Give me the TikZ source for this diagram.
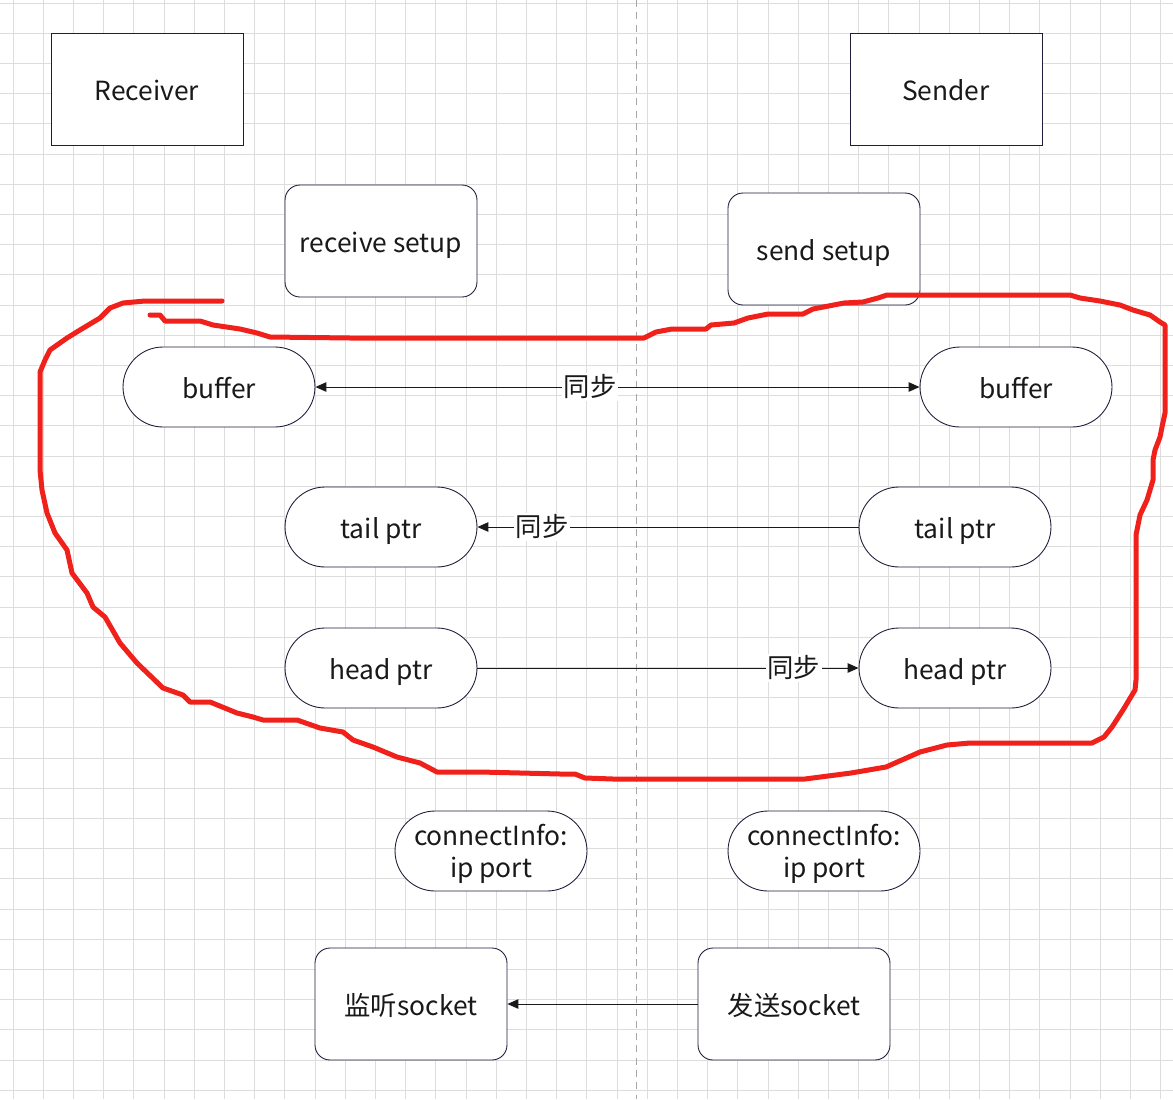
\documentclass[tikz,border=0pt]{standalone}
\usepackage{fontspec}
\setmainfont{Noto Sans CJK SC}
\usepackage{tikz}
\usetikzlibrary{positioning}
\usetikzlibrary{arrows.meta}

\definecolor{edgeblue}{HTML}{1E1E3A}
\definecolor{gridgray}{HTML}{DDDDDD}
\definecolor{markred}{HTML}{F0201A}

\tikzset{
	gridline/.style={draw=gridgray, line width=0.5pt},
	midline/.style={draw=gray!70, line width=0.5pt, dash pattern=on 4pt off 3pt},
	box/.style={draw=edgeblue, line width=0.5pt, fill=white, text=black!90,
		minimum width=3.84cm, minimum height=2.24cm, inner sep=0pt,
		text height=14.2pt, text depth=0.6pt,
		font=\fontsize{15pt}{18pt}\selectfont},
	roundbox/.style={box, rounded corners=0.3cm},
	pill/.style={box, minimum height=1.6cm, rounded corners=0.8cm},
	twoline/.style={draw=edgeblue, line width=0.5pt, fill=white, text=black!90,
		minimum width=3.84cm, minimum height=1.6cm, inner sep=0pt,
		rounded corners=0.8cm, align=center, text depth=0.05em,
		font=\fontsize{15pt}{18pt}\selectfont},
	syncline/.style={line width=0.55pt, black!90},
	synclabel/.style={fill=white, inner sep=1pt, text=black!90,
		font=\fontsize{15pt}{18pt}\selectfont},
	markline/.style={draw=markred, line width=0.1cm, line join=round, line cap=round},
}

\begin{document}
\begin{tikzpicture}[x=0.02cm, y=-0.02cm,
	>={Triangle[length=2.2mm, width=1.9mm]}]
	
	% ------------------------------------------------
	% Page size and background grid
	\useasboundingbox (0,0) rectangle (1173,1099);
	\fill[white] (0,0) rectangle (1173,1099);
	\foreach \k in {0,...,38}
		\draw[gridline] ({13+30.2*\k},0) -- ({13+30.2*\k},1099);
	\foreach \k in {0,...,36}
		\draw[gridline] (0,{3+30.2*\k}) -- (1173,{3+30.2*\k});
	\draw[midline] (636,0) -- (636,1099);
	
	% ------------------------------------------------
	% Relevant coordinates
	\coordinate (RecvPos) at (147,89);
	\path (RecvPos)  +(799,0)   coordinate (SendPos);
	
	\path (RecvPos)  +(234,152) coordinate (RecvSetupPos);
	\path (SendPos)  +(-122,160) coordinate (SendSetupPos);
	
	\path (RecvPos)  +(72,298)  coordinate (BufLPos);
	\path (BufLPos)  +(797,0)   coordinate (BufRPos);
	
	\path (RecvSetupPos) +(0,286) coordinate (TailLPos);
	\path (TailLPos) +(574,0)   coordinate (TailRPos);
	\path (TailLPos) +(0,141)   coordinate (HeadLPos);
	\path (TailRPos) +(0,141)   coordinate (HeadRPos);
	
	\path (HeadLPos) +(110,183) coordinate (ConnLPos);
	\path (ConnLPos) +(333,0)   coordinate (ConnRPos);
	
	\path (ConnLPos) +(-80,153) coordinate (SockLPos);
	\path (SockLPos) +(383,0)   coordinate (SockRPos);
	
	% ----------------
	% Boxes
	\node[box]      (Recv)      at (RecvPos)      {Receiver};
	\node[box]      (Send)      at (SendPos)      {Sender};
	\node[roundbox] (RecvSetup) at (RecvSetupPos) {receive setup};
	\node[roundbox] (SendSetup) at (SendSetupPos) {send setup};
	
	\node[pill] (BufL)  at (BufLPos)  {buffer};
	\node[pill] (BufR)  at (BufRPos)  {buffer};
	\node[pill] (TailL) at (TailLPos) {tail ptr};
	\node[pill] (TailR) at (TailRPos) {tail ptr};
	\node[pill] (HeadL) at (HeadLPos) {head ptr};
	\node[pill] (HeadR) at (HeadRPos) {head ptr};
	
	\node[twoline] (ConnL) at (ConnLPos) {connectInfo:\\ip port};
	\node[twoline] (ConnR) at (ConnRPos) {connectInfo:\\ip port};
	
	\node[roundbox] (SockL) at (SockLPos) {监听socket};
	\node[roundbox] (SockR) at (SockRPos) {发送socket};
	
	% ----------------
	% Sync arrows
	\draw[syncline, <->] (BufL) -- node[synclabel, pos=0.455] {同步} (BufR);
	\draw[syncline, ->]  (TailR) -- node[synclabel, pos=0.83] {同步} (TailL);
	\draw[syncline, ->]  (HeadL) -- node[synclabel, pos=0.83] {同步} (HeadR);
	\draw[syncline, ->]  (SockR) -- (SockL);
	
	% ------------------------------------------------
	% Hand drawn red outline
	\draw[markline] (222,301) -- (145,301) -- (123,303) -- (110,308) -- (100,318)
		-- (80,330) -- (67,338) -- (50,350) -- (45,360) -- (40,372) -- (40,470)
		-- (42,490) -- (47,513) -- (55,533) -- (67,550) -- (72,573) -- (87,593)
		-- (93,607) -- (105,617) -- (120,643) -- (137,663) -- (163,688) -- (183,695)
		-- (190,702) -- (210,702) -- (237,713) -- (253,717) -- (263,720) -- (297,720)
		-- (320,728) -- (343,732) -- (353,740) -- (373,747) -- (397,757) -- (420,763)
		-- (437,772) -- (480,772) -- (560,774) -- (575,774) -- (585,778) -- (613,779)
		-- (805,779) -- (851,773) -- (886,767) -- (920,752) -- (947,745) -- (970,743)
		-- (1092,743) -- (1104,737) -- (1112,727) -- (1123,710) -- (1135,690)
		-- (1136,680) -- (1136,535) -- (1140,515) -- (1147,500) -- (1153,480)
		-- (1153,460) -- (1155,450) -- (1160,437) -- (1162,427) -- (1165,413)
		-- (1165,325) -- (1160,322) -- (1150,315) -- (1133,310) -- (1120,305)
		-- (1100,301) -- (1080,298) -- (1070,295) -- (887,295) -- (878,298)
		-- (863,302) -- (844,303) -- (813,309) -- (803,314) -- (768,314) -- (748,318)
		-- (734,323) -- (711,325) -- (706,329) -- (672,329) -- (656,332) -- (644,338)
		-- (350,338) -- (270,337) -- (257,333) -- (240,329) -- (213,325) -- (200,321)
		-- (165,321) -- (160,315) -- (150,315);
	
\end{tikzpicture}
\end{document}
